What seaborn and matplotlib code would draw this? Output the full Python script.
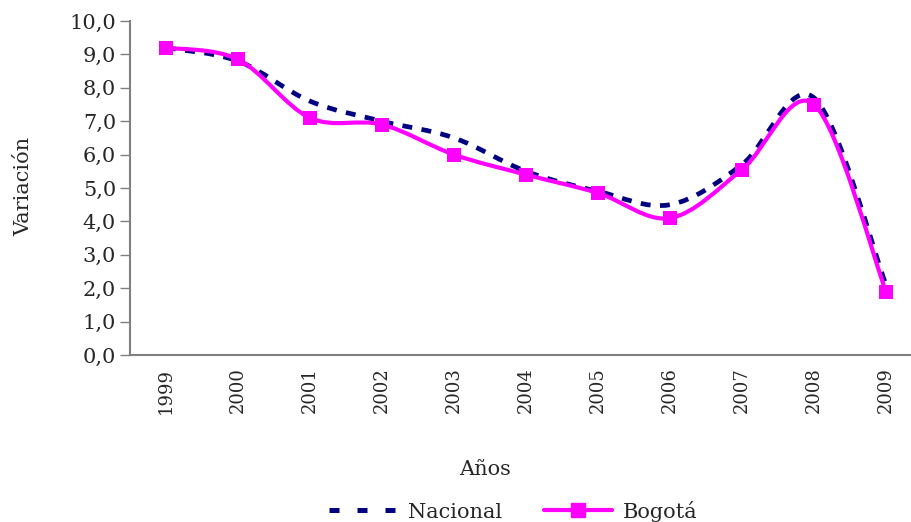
import numpy as np
import matplotlib
matplotlib.use("Agg")
import matplotlib.pyplot as plt
import seaborn as sns
from matplotlib.path import Path
from matplotlib.patches import PathPatch
from matplotlib.lines import Line2D
from matplotlib.ticker import FuncFormatter

years = ["1999", "2000", "2001", "2002", "2003", "2004",
         "2005", "2006", "2007", "2008", "2009"]
nacional = [9.2, 8.8, 7.6, 7.0, 6.5, 5.5, 4.9, 4.5, 5.7, 7.7, 2.1]
bogota = [9.2, 8.85, 7.1, 6.9, 6.0, 5.4, 4.85, 4.1, 5.55, 7.5, 1.9]

NAVY = "#000080"
MAGENTA = "#FF00FF"
FONT = "DejaVu Serif"
FS = 15


def smooth_path(x, y):
    # Excel-style smoothed line: cubic Bezier segments through every point
    n = len(x)
    verts = [(x[0], y[0])]
    codes = [Path.MOVETO]
    for i in range(n - 1):
        xp, yp = (x[i - 1], y[i - 1]) if i > 0 else (x[i], y[i])
        xn, yn = (x[i + 2], y[i + 2]) if i + 2 < n else (x[i + 1], y[i + 1])
        c1 = (x[i] + (x[i + 1] - xp) / 6, y[i] + (y[i + 1] - yp) / 6)
        c2 = (x[i + 1] - (xn - x[i]) / 6, y[i + 1] - (yn - y[i]) / 6)
        verts += [c1, c2, (x[i + 1], y[i + 1])]
        codes += [Path.CURVE4] * 3
    return Path(verts, codes)


sns.set_style("white")
plt.rcParams["font.family"] = [FONT, "DejaVu Sans"]

fig = plt.figure(figsize=(9.12, 5.22), dpi=100)
ax = fig.add_axes([130 / 912, 167 / 522, 1 - 130 / 912, 334 / 522])

pos = np.arange(len(years))

ax.add_patch(PathPatch(smooth_path(pos, nacional), fill=False, edgecolor=NAVY,
                       lw=3.4, linestyle=(0, (2.1, 2.0)), zorder=2,
                       capstyle="butt"))
ax.add_patch(PathPatch(smooth_path(pos, bogota), fill=False, edgecolor=MAGENTA,
                       lw=3, zorder=3))
sns.scatterplot(x=pos, y=bogota, marker="s", s=105, color=MAGENTA,
                edgecolor=MAGENTA, linewidth=0, ax=ax, zorder=4, legend=False)

ax.set_xlim(-0.5, -0.5 + (912 - 130) / 72)
ax.set_ylim(0, 10)
ax.set_yticks(np.arange(0, 10.1, 1))
ax.yaxis.set_major_formatter(FuncFormatter(lambda v, p: f"{v:.1f}".replace(".", ",")))
ax.set_xticks(pos)
ax.set_xticklabels(years, rotation=90)

for side in ["top", "right"]:
    ax.spines[side].set_visible(False)
for side in ["left", "bottom"]:
    ax.spines[side].set_color("#808080")
    ax.spines[side].set_linewidth(1.5)

ax.tick_params(axis="y", which="major", length=7, width=1, color="#808080",
               left=True, labelsize=FS, pad=3)
ax.tick_params(axis="x", length=0, labelsize=13, pad=9)

ax.set_xlabel("Años", fontsize=FS)
ax.xaxis.set_label_coords((485 - 130) / (912 - 130), -(460 - 355) / 334)
ax.set_ylabel("Variación", fontsize=FS)
ax.yaxis.set_label_coords(-(130 - 33) / (912 - 130), (355 - 186) / 334)

handles = [
    Line2D([], [], color=NAVY, lw=3.6, linestyle=(0, (2.0, 3.6))),
    Line2D([], [], color=MAGENTA, lw=3, marker="s", markersize=9.5),
]
fig.legend(handles, ["Nacional", "Bogotá"], loc="center",
           bbox_to_anchor=(513 / 912, 11 / 522), ncol=2, frameon=False,
           fontsize=FS, handlelength=3.3, columnspacing=2.0, handletextpad=0.5)

fig.savefig("out.png", dpi=100)
